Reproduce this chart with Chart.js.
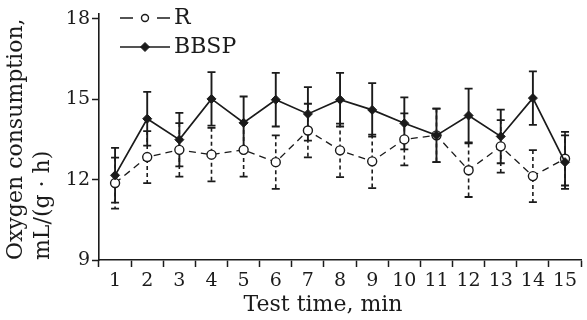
<!DOCTYPE html>
<html>
<head>
<meta charset="utf-8">
<script src="https://cdn.jsdelivr.net/npm/chart.js@4/dist/chart.umd.min.js"></script>
<style>
  html, body { margin: 0; padding: 0; background: #fff; }
  #wrap { width: 587px; height: 320px; }
</style>
</head>
<body>
<div id="wrap"><canvas id="o2Chart"></canvas></div>
<script>
const minutes = ["1", "2", "3", "4", "5", "6", "7", "8", "9", "10", "11", "12", "13", "14", "15"];
const rMean = [11.87, 12.84, 13.11, 12.93, 13.11, 12.65, 13.83, 13.09, 12.68, 13.5, 13.65, 12.35, 13.24, 12.13, 12.78];
const rErr = [0.95, 0.97, 1.0, 1.0, 1.0, 1.0, 1.0, 1.0, 1.0, 0.97, 1.0, 1.0, 0.98, 0.97, 1.0];
const bbspMean = [12.16, 14.27, 13.49, 15.01, 14.12, 14.98, 14.45, 14.98, 14.6, 14.1, 13.65, 14.39, 13.61, 15.04, 12.65];
const bbspErr = [1.02, 1.0, 1.0, 1.0, 0.98, 1.0, 1.0, 1.0, 1.0, 0.97, 1.0, 1.0, 1.0, 1.0, 1.0];
const yTicks = [9, 12, 15, 18];

const ink = "#1b1b1b";
const serif = "'DejaVu Serif', serif";

// vertical error bars with caps, drawn under the markers
const errorBars = {
  id: "errorBars",
  beforeDatasetsDraw(chart) {
    const ctx = chart.ctx;
    const y = chart.scales.y;
    chart.data.datasets.forEach((ds, i) => {
      const meta = chart.getDatasetMeta(i);
      ctx.save();
      ctx.strokeStyle = ink;
      meta.data.forEach((pt, j) => {
        const hi = y.getPixelForValue(ds.data[j] + ds.errors[j]);
        const lo = y.getPixelForValue(ds.data[j] - ds.errors[j]);
        ctx.lineWidth = ds.errWidth;
        ctx.setLineDash(ds.errDash);
        ctx.beginPath();
        ctx.moveTo(pt.x, hi);
        ctx.lineTo(pt.x, lo);
        ctx.stroke();
        ctx.setLineDash([]);
        ctx.lineWidth = 1.8;
        ctx.beginPath();
        ctx.moveTo(pt.x - 4, hi); ctx.lineTo(pt.x + 4, hi);
        ctx.moveTo(pt.x - 4, lo); ctx.lineTo(pt.x + 4, lo);
        ctx.stroke();
      });
      ctx.restore();
    });
  }
};

// legend in the top-left corner + x title
const extras = {
  id: "extras",
  afterDraw(chart) {
    const ctx = chart.ctx;
    ctx.save();
    chart.data.datasets.forEach((ds, i) => {
      const yy = 18 + i * 29;
      ctx.strokeStyle = ink;
      ctx.lineWidth = ds.borderWidth;
      ctx.setLineDash(ds.legendDash);
      ctx.beginPath();
      ctx.moveTo(120, yy);
      ctx.lineTo(170, yy);
      ctx.stroke();
      ctx.setLineDash([]);
      ctx.fillStyle = ds.pointBackgroundColor;
      ctx.lineWidth = ds.pointBorderWidth;
      Chart.helpers.drawPoint(ctx, {
        pointStyle: ds.pointStyle, radius: ds.legendRadius, rotation: 0, borderWidth: ds.pointBorderWidth
      }, 145, yy);
      ctx.fillStyle = ink;
      ctx.font = "22px " + serif;
      ctx.textAlign = "left";
      ctx.textBaseline = "middle";
      ctx.fillText(ds.label, 174, yy);
    });
    ctx.fillStyle = ink;
    ctx.font = "22px " + serif;
    ctx.textAlign = "center";
    ctx.textBaseline = "middle";
    ctx.fillText("Test time, min", 323, 305);
    ctx.restore();
  }
};

const data = {
  labels: minutes,
  datasets: [
    {
      label: "R",
      data: rMean,
      errors: rErr,
      errWidth: 1.6,
      errDash: [4, 3],
      legendDash: [13, 24],
      legendRadius: 3.5,
      borderColor: ink,
      borderWidth: 1.3,
      borderDash: [7, 5],
      pointStyle: "circle",
      pointRadius: 4.5,
      pointBorderWidth: 1.4,
      pointBackgroundColor: "#fff",
      pointBorderColor: ink,
      order: 2,
    },
    {
      label: "BBSP",
      data: bbspMean,
      errors: bbspErr,
      errWidth: 1.9,
      errDash: [],
      legendDash: [],
      legendRadius: 4.5,
      borderColor: ink,
      borderWidth: 1.7,
      pointStyle: "rectRot",
      pointRadius: 4.5,
      pointBorderWidth: 1,
      pointBackgroundColor: ink,
      pointBorderColor: ink,
      order: 1,
    },
  ],
};

const config = {
  type: "line",
  data: data,
  plugins: [errorBars, extras],
  options: {
    responsive: true,
    maintainAspectRatio: false,
    animation: false,
    layout: { padding: { top: 12, right: 0, bottom: 0, left: 0 } },
    elements: { line: { tension: 0 } },
    scales: {
      x: {
        type: "category",
        offset: true,
        grid: {
          offset: true,
          drawOnChartArea: false,
          drawTicks: true,
          tickLength: 7,
          tickWidth: 1.5,
          tickColor: ink,
        },
        border: { display: true, color: ink, width: 1.6 },
        ticks: {
          color: ink,
          font: { family: serif, size: 19 },
          padding: 3,
          maxRotation: 0,
          autoSkip: false,
        },
        afterFit: (s) => { s.height = 60; },
      },
      y: {
        min: 9,
        max: 18.2,
        afterBuildTicks: (s) => { s.ticks = yTicks.map((v) => ({ value: v })); },
        grid: {
          drawOnChartArea: false,
          drawTicks: true,
          tickLength: 7,
          tickWidth: 1.5,
          tickColor: ink,
        },
        border: { display: true, color: ink, width: 1.6 },
        ticks: {
          color: ink,
          font: { family: serif, size: 19 },
          padding: 2,
        },
        title: {
          display: true,
          text: ["Oxygen consumption,", "mL/(g \u00b7 h)"],
          align: "start",
          color: ink,
          font: { family: serif, size: 22, lineHeight: 1.227 },
          padding: { top: 2.5, bottom: 0 },
        },
        afterFit: (s) => { s.width = 99; },
      },
    },
    plugins: {
      legend: { display: false },
      tooltip: { enabled: false },
    },
  },
};

const myChart = new Chart(document.querySelector("#o2Chart").getContext("2d"), config);
</script>
</body>
</html>
